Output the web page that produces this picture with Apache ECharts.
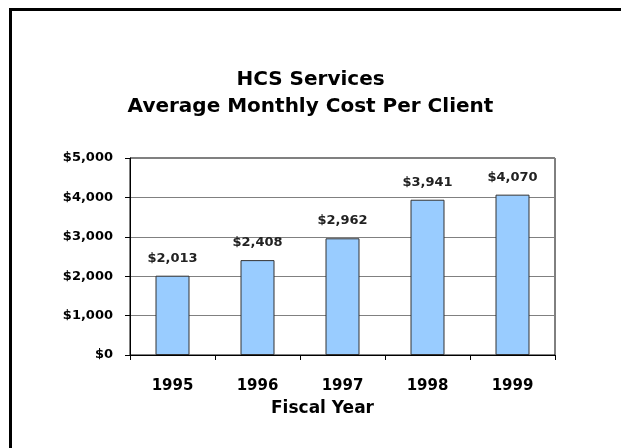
<!DOCTYPE html>
<html>
<head>
<meta charset="utf-8">
<script src="https://cdn.jsdelivr.net/npm/echarts@6/dist/echarts.min.js"></script>
<style>
  html, body { margin: 0; padding: 0; background: #fff; }
  #main { width: 621px; height: 448px; }
</style>
</head>
<body>
<div id="main"></div>
<script>
// 数据
var years = ["1995", "1996", "1997", "1998", "1999"];
var costs = [2013, 2408, 2962, 3941, 4070];
var yTicks = [0, 1000, 2000, 3000, 4000, 5000];

var fontName = "DejaVu Sans";

function money(v) {
  return "$" + String(v).replace(/\B(?=(\d{3})+(?!\d))/g, ",");
}

var chart = echarts.init(document.getElementById("main"), null, { renderer: "canvas" });

var option = {
  backgroundColor: "#fff",
  animation: false,
  title: {
    text: "HCS Services\nAverage Monthly Cost Per Client",
    left: "center",
    top: 61,
    textStyle: {
      fontFamily: fontName,
      fontSize: 20,
      fontWeight: "bold",
      color: "#000",
      lineHeight: 27,
    },
  },
  // 外框（左、上）
  graphic: [
    { type: "line", shape: { x1: 10.5, y1: 9.5, x2: 10.5, y2: 448 }, style: { stroke: "#000", lineWidth: 3 } },
    { type: "line", shape: { x1: 9, y1: 9.5, x2: 621, y2: 9.5 }, style: { stroke: "#000", lineWidth: 3 } },
  ],
  grid: {
    left: 130,
    right: 66,
    top: 158,
    bottom: 93,
    show: true,
    borderColor: "#000",
    borderWidth: 1,
  },
  xAxis: {
    type: "category",
    data: years,
    name: "Fiscal Year",
    nameLocation: "middle",
    nameGap: 45,
    nameTextStyle: {
      fontFamily: fontName,
      fontSize: 17,
      fontWeight: "bold",
      color: "#000",
      padding: [0, 40, 0, 0],
    },
    axisLine: { lineStyle: { color: "#000", width: 1 } },
    axisTick: { show: true, length: 5, lineStyle: { color: "#000" } },
    axisLabel: { margin: 24, fontFamily: fontName, fontSize: 15, fontWeight: "bold", color: "#000" },
  },
  yAxis: {
    type: "value",
    min: 0,
    max: 5000,
    interval: 1000,
    axisLine: { show: true, lineStyle: { color: "#000", width: 1 } },
    axisTick: { show: true, length: 5, lineStyle: { color: "#000" } },
    splitLine: { show: true, lineStyle: { color: "#808080", width: 1 } },
    axisLabel: {
      margin: 17,
      fontFamily: fontName,
      fontSize: 13,
      fontWeight: "bold",
      color: "#000",
      formatter: function (v) { return money(v); },
    },
  },
  series: [
    {
      type: "bar",
      data: costs,
      barWidth: "40%",
      itemStyle: { color: "#99CCFF", borderColor: "#333", borderWidth: 1 },
      label: {
        show: true,
        position: "top",
        distance: 11,
        fontFamily: fontName,
        fontSize: 13,
        fontWeight: "bold",
        color: "#222",
        formatter: function (p) { return money(p.value); },
      },
    },
  ],
};

chart.setOption(option);
</script>
</body>
</html>
